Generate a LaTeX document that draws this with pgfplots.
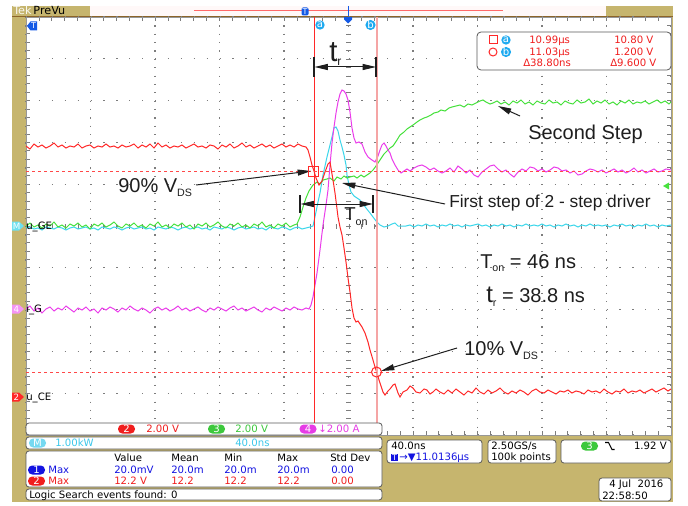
\documentclass[border=0pt]{standalone}
\usepackage{fontspec}
\setmainfont{Liberation Sans}
\newfontfamily\tekfont{DejaVu Sans}
\usepackage{pgfplots}
\pgfplotsset{compat=1.18}
\usetikzlibrary{arrows.meta}
\definecolor{khaki}{RGB}{198,181,110}
\definecolor{brownln}{RGB}{140,100,40}
\definecolor{recbar}{RGB}{255,248,248}
\definecolor{gridgray}{RGB}{125,125,125}
\definecolor{sred}{RGB}{255,40,40}
\definecolor{sgreen}{RGB}{70,225,60}
\definecolor{scyan}{RGB}{60,215,235}
\definecolor{smag}{RGB}{235,60,235}
\definecolor{curb}{RGB}{245,165,165}
\definecolor{curcyan}{RGB}{30,170,240}
\definecolor{tblue}{RGB}{20,20,225}
\definecolor{tred}{RGB}{240,30,30}
\definecolor{tgreen}{RGB}{60,200,60}
\definecolor{tmag}{RGB}{230,60,230}
\definecolor{tcyan}{RGB}{60,200,235}
\definecolor{tekblue}{RGB}{20,90,230}
\definecolor{boxln}{RGB}{90,90,90}
\definecolor{ink}{RGB}{30,30,30}
\newcommand\tf{\tekfont\fontsize{7.6}{9}\selectfont}
\newcommand\badge[4]{\node[fill=#1, text=white, rounded corners=3.2pt, inner sep=0pt, minimum width=12.75pt, minimum height=6.75pt] at (#2,#3) {\tf #4};}
\newcommand\rbox[4]{\draw[boxln, fill=white, line width=0.6pt, rounded corners=2.2pt] (#1,#2) rectangle (#3,#4);}
\newcommand\tx[4]{\node[anchor=base west, inner sep=0pt, text=#1] at (#2,#3) {\tf #4};}
\tikzset{arr/.style={ink, line width=0.75pt, -{Triangle[length=10pt,width=4.5pt]}},
  darr/.style={ink, line width=0.75pt, {Triangle[length=10pt,width=4.5pt]}-{Triangle[length=10pt,width=4.5pt]}}}
\begin{document}
\begin{tikzpicture}
\useasboundingbox (0,0) rectangle (516pt,-379.5pt);
\begin{scope}[x=0.75pt,y=-0.75pt]
\fill[white] (0,0) rectangle (688,506);
\fill[khaki] (12,6) rectangle (673,502);
\fill[recbar] (90,6) rectangle (606,16);
\draw[sred!70, line width=0.75pt] (194,10.5) -- (503,10.5);
\fill[tekblue, rounded corners=1pt] (301.5,7.5) rectangle (308.5,15.5);
\node[text=white, inner sep=0pt] at (305,11.5) {\tekfont\fontsize{6}{6}\selectfont T};
\draw[tekblue, line width=0.75pt] (348,6) -- (348,16);
\draw[brownln, line width=0.9pt] (12,16.3) -- (673,16.3);
\node[anchor=base west, inner sep=0pt] at (13,14.8) {\tekfont\fontsize{8.4}{9}\selectfont\textcolor{white!90!khaki}{Tek}\,PreVu};
\end{scope}
\begin{axis}[
  at={(19.5pt,-326.25pt)}, anchor=south west,
  scale only axis, width=483.75pt, height=313.5pt,
  xmin=26, xmax=671, ymin=17, ymax=435, y dir=reverse,
  xtick={26,90.5,155,219.5,284,348.5,413,477.5,542,606.5,671},
  ytick={17,58.8,100.6,142.4,184.2,226,267.8,309.6,351.4,393.2,435},
  minor x tick num=4, minor y tick num=4,
  xticklabels={}, yticklabels={},
  tick align=inside, major tick length=3pt, minor tick length=3pt,
  tick style={gridgray, line width=0.6pt},
  xmajorgrids, ymajorgrids,
  x grid style={gridgray, line width=0.8pt, dash pattern=on 0.9pt off 5.37pt},
  y grid style={gridgray, line width=0.8pt, dash pattern=on 0.9pt off 8.775pt},
  axis line style={gridgray!80, line width=0.6pt},
  axis background/.style={fill=white},
]
\draw[gridgray, line width=3.75pt, dash pattern=on 0.75pt off 5.52pt] (348.5,17) -- (348.5,435);
\draw[gridgray, line width=3.75pt, dash pattern=on 0.75pt off 8.925pt] (26,226) -- (671,226);
% math channel (cyan)
\addplot[scyan, line width=0.75pt] coordinates {
(26,228)(30,227)(34,229)(38,228)(42,230)(46,227)(50,228)(54,229)(58,227)(62,228)(66,230)(70,228)(74,227)(78,229)(82,228)(86,227)(90,229)(94,228)(98,230)(102,227)(106,228)(110,229)(114,227)(118,228)(122,230)(126,228)(130,227)(134,229)(138,228)(142,227)(146,229)(150,228)(154,230)(158,227)(162,228)(166,229)(170,227)(174,228)(178,230)(182,228)(186,227)(190,229)(194,228)(198,227)(202,229)(206,228)(210,230)(214,227)(218,228)(222,229)(226,227)(230,228)(234,230)(238,228)(242,227)(246,229)(250,228)(254,227)(258,229)(262,228)(266,230)(270,227)(274,228)(278,229)(282,227)(286,228)(290,230)(294,228)(298,227)(302,229)(306,228)(310,227)
(313,226)(316,212)(318,202)(320,193)(323,175)(327,157)(330,145)(332,137)(334,128)(336,127)(338,131)(340,140)(342,147)(344,155)(346,165)(347,175)(349,185)(351,192)(354,196)(357,198)(360,200)(363,204)(366,208)(370,213)(373,217)(376,221)(380,225)(384,227)(388,226)(392,224)(395,223)(398,226)(402,226)
(406,226)(410,225)(414,227)(418,225)(422,226)(426,224)(430,226)(434,225)(438,227)(442,225)(446,226)(450,224)(454,226)(458,225)(462,227)(466,225)(470,226)(474,225)(478,224)(482,226)(486,225)(490,227)(494,225)(498,226)(502,224)(506,226)(510,225)(514,227)(518,225)(522,226)(526,224)(530,226)(534,225)(538,226)(542,224)(546,226)(550,225)(554,227)(558,225)(562,226)(566,224)(570,226)(574,225)(578,227)(582,225)(586,226)(590,224)(594,226)(598,225)(602,226)(606,225)(610,227)(614,225)(618,226)(622,224)(626,226)(630,225)(634,227)(638,225)(642,226)(646,224)(650,226)(654,225)(658,227)(662,225)(666,226)(671,225)};
% CH3 gate voltage (green)
\addplot[sgreen, line width=0.75pt] coordinates {
(26,226)(30,223)(34,227)(38,225)(42,228)(46,224)(50,226)(54,222)(58,227)(62,225)(66,228)(70,224)(74,226)(78,223)(82,227)(86,225)(90,229)(94,224)(98,226)(102,223)(106,227)(110,225)(114,222)(118,226)(122,228)(126,224)(130,226)(134,223)(138,227)(142,225)(146,228)(150,224)(154,226)(158,222)(162,227)(166,225)(170,228)(174,224)(178,226)(182,223)(186,227)(190,225)(194,229)(198,224)(202,226)(206,223)(210,227)(214,225)(218,222)(222,226)(226,228)(230,224)(234,226)(238,223)(242,227)(246,225)(250,228)(254,224)(258,226)(262,222)(266,227)(270,225)(274,228)(278,224)(282,226)(286,223)(290,227)(294,225)
(297,224)(300,217)(303,207)(306,198)(309,191)(313,185)(317,182)(320,184)(323,180)(327,179)(330,178)(334,181)(337,177)(341,179)(344,176)(347,178)(350,177)(354,176)(357,178)(361,175)(364,177)(367,175)(370,173)(373,170)(376,166)(380,160)(384,154)(387,151)(390,148)(393,146)(397,140)(400,135)(404,132)(407,129)(410,127)(413,125)(417,122)(420,120)(424,118)(427,117)(431,115)(434,113)(438,112)(441,110)(445,111)(449,108)(452,107)(456,106)(460,105)(464,107)(468,104)(472,105)(476,103)(480,101)(483,100)(486,102)(490,104)(493,103)
(497,101)(501,104)(505,102)(509,105)(513,101)(517,103)(521,100)(525,104)(529,102)(533,105)(537,101)(541,103)(545,104)(549,100)(553,103)(557,102)(561,105)(565,101)(569,103)(573,104)(577,100)(581,103)(585,102)(589,99)(593,104)(597,101)(601,103)(605,100)(609,104)(613,102)(617,105)(621,101)(625,103)(629,100)(633,104)(637,102)(641,103)(645,101)(649,104)(653,102)(657,100)(661,103)(665,101)(669,104)(671,102)};
% CH4 gate current (magenta)
\addplot[smag, line width=0.75pt] coordinates {
(26,309)(30,306)(34,311)(38,308)(42,313)(46,309)(50,307)(54,311)(58,308)(62,310)(66,306)(70,309)(74,312)(78,308)(82,310)(86,307)(90,311)(94,309)(98,313)(102,308)(106,310)(110,307)(114,309)(118,312)(122,308)(126,310)(130,306)(134,309)(138,311)(142,308)(146,310)(150,313)(154,309)(158,307)(162,310)(166,308)(170,311)(174,309)(178,306)(182,310)(186,308)(190,311)(194,309)(198,307)(202,310)(206,312)(210,308)(214,310)(218,307)(222,309)(226,311)(230,308)(234,306)(238,310)(242,308)(246,311)(250,309)(254,307)(258,310)(262,312)(266,308)(270,310)(274,307)(278,309)(282,311)(286,308)(290,310)(294,307)(298,309)(302,310)(306,308)(309,309)
(311,305)(313,297)(315,285)(317,273)(320,250)(323,225)(326,205)(328,190)(330,165)(332,143)(334,127)(336,113)(338,102)(340,94)(342,90)(344,91)(346,94)(348,100)(350,112)(352,128)(354,138)(356,143)(359,142)(362,144)(365,152)(368,157)(372,160)(375,162)(378,156)(380,150)(382,145)(384,143)(386,146)(388,150)(390,153)(392,159)(395,165)(398,170)(401,173)(404,171)(407,169)(410,171)(414,168)(418,166)(422,165)(426,167)(430,170)(434,168)(438,171)(442,173)
(446,171)(450,168)(454,172)(458,166)(462,169)(466,173)(470,170)(474,175)(478,177)(482,172)(486,169)(490,166)(494,165)(498,169)(502,172)(506,170)(510,174)(514,177)(518,172)(522,169)(526,171)(530,167)(534,168)(538,171)(542,169)(546,172)(550,170)(554,167)(558,168)(562,171)(566,170)(570,173)(574,171)(578,175)(582,174)(586,171)(590,169)(594,170)(598,172)(602,170)(606,173)(610,171)(614,169)(618,172)(622,170)(626,173)(630,171)(634,168)(638,172)(642,170)(646,173)(650,171)(654,169)(658,172)(662,171)(666,169)(671,170)};
% CH2 collector voltage (red)
\addplot[sred, line width=0.75pt] coordinates {
(26,146)(30,149)(34,144)(38,147)(42,145)(46,148)(50,146)(54,143)(58,147)(62,145)(66,148)(70,146)(74,147)(78,144)(82,148)(86,146)(90,145)(94,148)(98,146)(102,147)(106,144)(110,147)(114,146)(118,148)(122,145)(126,147)(130,146)(134,144)(138,148)(142,145)(146,147)(150,144)(154,148)(158,143)(162,147)(166,145)(170,148)(174,146)(178,147)(182,145)(186,148)(190,146)(194,144)(198,147)(202,146)(206,148)(210,145)(214,146)(218,149)(222,145)(226,147)(230,144)(234,148)(238,146)(242,143)(246,147)(250,145)(254,148)(258,146)(262,144)(266,147)(270,145)(274,148)(278,146)(282,144)(286,147)(290,145)(294,147)(298,144)(302,146)(306,147)
(308,150)(310,157)(312,165)(314,171)(316,178)(319,185)(322,181)(325,172)(328,164)(330,162)(333,180)(335,193)(338,217)(340,227)(342,235)(344,248)(346,262)(348,278)(350,292)(352,308)(354,318)(356,322)(358,321)(360,324)(362,327)(365,333)(368,342)(370,350)(373,360)(375,367)(377,373)(379,380)(381,386)(383,392)(385,395)(388,391)(390,389)(393,385)(395,384)(398,393)(400,397)(403,392)(407,390)(410,386)(413,388)(416,392)(420,393)(424,389)(427,390)(430,394)(433,392)(436,389)(440,392)
(444,394)(448,390)(452,393)(456,389)(460,392)(464,395)(468,391)(472,393)(476,388)(480,392)(484,394)(488,390)(492,393)(496,391)(500,388)(504,392)(508,394)(512,391)(516,393)(520,390)(524,392)(528,395)(532,391)(536,389)(540,392)(544,393)(548,390)(552,392)(556,394)(560,391)(564,392)(568,390)(572,393)(576,391)(580,392)(584,394)(588,390)(592,392)(596,391)(600,393)(604,389)(608,392)(612,394)(616,391)(620,392)(624,389)(628,393)(632,391)(636,392)(640,390)(644,393)(648,391)(652,389)(656,392)(660,390)(664,388)(668,391)(671,389)};
\end{axis}
\begin{scope}[x=0.75pt,y=-0.75pt]
% cursors
\draw[curb, line width=1.5pt] (376.5,17) -- (376.5,423);
\draw[sred, line width=0.75pt] (314.5,17) -- (314.5,423);
\draw[sred!85, line width=0.55pt, dash pattern=on 2.25pt off 2.25pt] (26,171) -- (671,171);
\draw[sred!85, line width=0.55pt, dash pattern=on 2.25pt off 2.25pt] (26,372) -- (671,372);
\node[circle, fill=curcyan, text=white, inner sep=0pt, minimum size=7pt] at (320,25) {\tf a};
\node[circle, fill=curcyan, text=white, inner sep=0pt, minimum size=7pt] at (370.5,25) {\tf b};
% trigger markers
\fill[tekblue] (27,26) -- (30.5,21.5) -- (37,21.5) -- (37,30.5) -- (30.5,30.5) -- cycle;
\node[text=white, inner sep=0pt] at (33.5,26) {\tekfont\fontsize{6}{6}\selectfont T};
\fill[tekblue] (344,17) -- (352,17) -- (352,19.5) -- (348,23.5) -- (344,19.5) -- cycle;
\fill[sgreen] (663,186) -- (669,182.5) -- (669,189.5) -- cycle;
% channel tags
\fill[scyan!75] (12,221.5) -- (19,221.5) -- (24,226) -- (19,230.5) -- (12,230.5) -- cycle;
\node[text=white, inner sep=0pt] at (16.5,226) {\tekfont\fontsize{6.5}{6.5}\selectfont M};
\fill[smag!55] (12,304.5) -- (19,304.5) -- (24,309) -- (19,313.5) -- (12,313.5) -- cycle;
\node[text=white, inner sep=0pt] at (16.5,309) {\tekfont\fontsize{6.5}{6.5}\selectfont 4};
\fill[sred] (12,392.5) -- (19,392.5) -- (24,397) -- (19,401.5) -- (12,401.5) -- cycle;
\node[text=white, inner sep=0pt] at (16.5,397) {\tekfont\fontsize{6.5}{6.5}\selectfont 2};
\tx{black}{26}{229.5}{u\_GE}
\tx{black}{26}{312.5}{i\_G}
\tx{black}{26}{400.5}{u\_CE}
% annotations
\draw[darr] (314.5,67) -- (376,67);
\draw[ink, line width=0.9pt] (314,57) -- (314,77);
\draw[ink, line width=0.9pt] (376,57) -- (376,77);
\node[anchor=base west, inner sep=0pt, text=ink] at (329,62) {\fontsize{22}{22}\selectfont t\raisebox{-3pt}{\fontsize{9}{9}\selectfont r}};
\draw[darr] (300.5,204) -- (373,204);
\draw[ink, line width=0.9pt] (300,195) -- (300,213);
\draw[ink, line width=0.9pt] (373,195) -- (373,213);
\node[anchor=base west, inner sep=0pt, text=ink] at (344,220) {\fontsize{14}{14}\selectfont T\raisebox{-4pt}{\fontsize{8}{8}\selectfont on}};
\node[anchor=base west, inner sep=0pt, text=ink] at (118,192) {\fontsize{15}{15}\selectfont 90\% V\raisebox{-3pt}{\fontsize{8}{8}\selectfont DS}};
\draw[arr] (196,185) -- (311,171);
\draw[sred, line width=0.75pt] (308.5,166) rectangle (318.5,176);
\node[anchor=base west, inner sep=0pt, text=ink] at (449,207.5) {\fontsize{13}{13}\selectfont First step of 2 - step driver};
\draw[arr] (445,204) -- (342,183);
\node[anchor=base west, inner sep=0pt, text=ink] at (528,140) {\fontsize{15}{15}\selectfont Second Step};
\draw[arr] (520,116) -- (498,106);
\node[anchor=base west, inner sep=0pt, text=ink] at (464,355) {\fontsize{15}{15}\selectfont 10\% V\raisebox{-3pt}{\fontsize{8}{8}\selectfont DS}};
\draw[arr] (457,348) -- (381,371);
\draw[sred, line width=0.75pt] (376.5,372) circle[radius=5];
\node[anchor=base west, inner sep=0pt, text=ink] at (480,268.3) {\fontsize{15}{15}\selectfont T\raisebox{-2.5pt}{\fontsize{8}{8}\selectfont on} = 46 ns};
\node[anchor=base west, inner sep=0pt, text=ink] at (486,302) {\fontsize{15}{15}\selectfont {\fontsize{18}{18}\selectfont t}\raisebox{-3pt}{\fontsize{8}{8}\selectfont r} = 38.8 ns};
% cursor readout
\draw[boxln, fill=white, line width=0.6pt, rounded corners=3pt] (477,32) rectangle (671,70);
\draw[sred, line width=0.75pt] (489,36) rectangle (497,44);
\draw[sred, line width=0.75pt] (493,52) circle[radius=4];
\node[circle, fill=curcyan, text=white, inner sep=0pt, minimum size=7pt] at (506,40) {\tf a};
\node[circle, fill=curcyan, text=white, inner sep=0pt, minimum size=7pt] at (506,52) {\tf b};
\tx{tred}{529}{43.5}{10.99µs}
\tx{tred}{614}{43.5}{10.80 V}
\tx{tred}{529}{55.5}{11.03µs}
\tx{tred}{614}{55.5}{1.200 V}
\tx{tred}{523}{66.5}{Δ38.80ns}
\tx{tred}{610}{66.5}{Δ9.600 V}
% bottom readouts
\rbox{26}{423}{382}{435}
\badge{tred}{126.5}{429}{2}
\tx{tred}{146}{432.7}{2.00 V}
\badge{tgreen}{216.5}{429}{3}
\tx{tgreen}{235}{432.7}{2.00 V}
\badge{tmag}{308}{429}{4}
\tx{tmag}{318}{432.7}{↓2.00 A}
\rbox{26}{437}{382}{449}
\badge{tcyan!70}{37.5}{443}{M}
\tx{tcyan}{55}{446.5}{1.00kW}
\tx{tcyan}{235}{446.5}{40.0ns}
\rbox{26}{451}{382}{487}
\tx{black}{114}{461.5}{Value}
\tx{black}{171}{461.5}{Mean}
\tx{black}{224}{461.5}{Min}
\tx{black}{277}{461.5}{Max}
\tx{black}{330}{461.5}{Std Dev}
\badge{tblue}{36.5}{470}{1}
\tx{tblue}{48}{473.5}{Max}
\tx{tblue}{114}{473.5}{20.0mV}
\tx{tblue}{171}{473.5}{20.0m}
\tx{tblue}{224}{473.5}{20.0m}
\tx{tblue}{277}{473.5}{20.0m}
\tx{tblue}{331}{473.5}{0.00}
\badge{tred}{36.5}{481}{2}
\tx{tred}{48}{484.5}{Max}
\tx{tred}{114}{484.5}{12.2 V}
\tx{tred}{171}{484.5}{12.2}
\tx{tred}{224}{484.5}{12.2}
\tx{tred}{277}{484.5}{12.2}
\tx{tred}{331}{484.5}{0.00}
\rbox{26}{489}{382}{500}
\tx{black}{29}{498}{Logic Search events found: 0}
\rbox{387}{440}{482}{463}
\tx{black}{391}{449.5}{40.0ns}
\fill[tblue] (391,453.5) rectangle (398,461);
\node[text=white, inner sep=0pt] at (394.5,457.3) {\tekfont\fontsize{6}{6}\selectfont T};
\tx{tblue}{399}{460.5}{→▼11.0136µs}
\rbox{488}{440}{556}{463}
\tx{black}{491}{449.5}{2.50GS/s}
\tx{black}{491}{460.5}{100k points}
\rbox{561}{440}{671}{463}
\badge{tgreen}{589.5}{446}{3}
\draw[black, line width=0.8pt] (605,442.5) -- (608.5,442.5) -- (612,449.5) -- (614.5,449.5);
\node[anchor=base east, inner sep=0pt] at (667,449.5) {\tf 1.92 V};
\rbox{599}{478}{671}{501}
\tx{black}{609}{487.5}{4 Jul\ \ 2016}
\tx{black}{602}{499.5}{22:58:50}
\end{scope}
\end{tikzpicture}
\end{document}
